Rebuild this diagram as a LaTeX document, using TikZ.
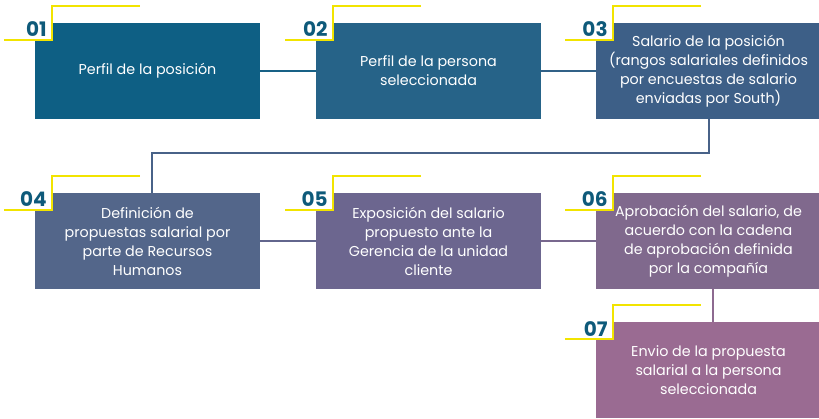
\documentclass[tikz,border=0pt]{standalone}
\usepackage{fontspec}
\setmainfont{Poppins}
\usetikzlibrary{calc}

\definecolor{stepA}{HTML}{0E5F84}
\definecolor{stepB}{HTML}{266388}
\definecolor{stepC}{HTML}{3D5F87}
\definecolor{stepD}{HTML}{53668A}
\definecolor{stepE}{HTML}{6C668F}
\definecolor{stepF}{HTML}{80698D}
\definecolor{stepG}{HTML}{9A6B92}
\definecolor{numblue}{HTML}{0E5A7A}
\definecolor{tagyellow}{HTML}{F2E400}

\tikzset{
  stepbox/.style={minimum width=225pt, minimum height=96pt, inner sep=0pt,
    align=center, text=white, font=\fontsize{14.3}{19}\selectfont},
  link/.style={line width=2pt},
  tagline/.style={tagyellow, line width=1.6pt},
  numtag/.style={numblue, inner sep=0pt, font=\fontsize{20}{20}\selectfont\bfseries}
}

\begin{document}
\begin{tikzpicture}[x=1pt, y=1pt]
  \useasboundingbox (0, 0) rectangle (819, 419);

  \node[stepbox, fill=stepA] (p1) at (147.5, 348) {Perfil de la posición};
  \node[stepbox, fill=stepB] (p2) at (428.5, 348) {Perfil de la persona\\seleccionada};
  \node[stepbox, fill=stepC] (p3) at (708.5, 348) {Salario de la posición\\(rangos salariales definidos\\por encuestas de salario\\enviadas por South)};

  \node[stepbox, fill=stepD] (p4) at (147.5, 178) {Definición de\\propuestas salarial por\\parte de Recursos\\Humanos};
  \node[stepbox, fill=stepE] (p5) at (428.5, 178) {Exposición del salario\\propuesto ante la\\Gerencia de la unidad\\cliente};
  \node[stepbox, fill=stepF] (p6) at (708.5, 178) {Aprobación del salario, de\\acuerdo con la cadena\\de aprobación definida\\por la compañía};

  \node[stepbox, fill=stepG] (p7) at (708.5, 48.5) {Envio de la propuesta\\salarial a la persona\\seleccionada};

  % connectors
  \draw[link, stepA!60!stepB] (p1) -- (p2);
  \draw[link, stepB!50!stepC] (p2) -- (p3);
  \draw[link, stepC!50!stepD] (p3.south) -- ++(0, -34) -| ([xshift=4pt]p4.north);
  \draw[link, stepD!40!stepE] (p4) -- (p5);
  \draw[link, stepE!40!stepF] (p5) -- (p6);
  \draw[link, stepF!50!stepG] ([xshift=4pt]p6.south) -- ([xshift=4pt]p7.north);

  % number tags
  \foreach \n/\b in {01/p1, 02/p2, 03/p3, 04/p4, 05/p5, 06/p6, 07/p7} {
    \fill[white] (\b.north west) rectangle ++(17, -17);
    \draw[tagline] ($(\b.north west)+(-31, -17)$) -- ++(48, 0) -- ++(0, 34) -- ++(88, 0);
    \node[numtag, anchor=base east] (n\n) at ($(\b.north west)+(12, -14)$) {\n};
  }
\end{tikzpicture}
\end{document}
